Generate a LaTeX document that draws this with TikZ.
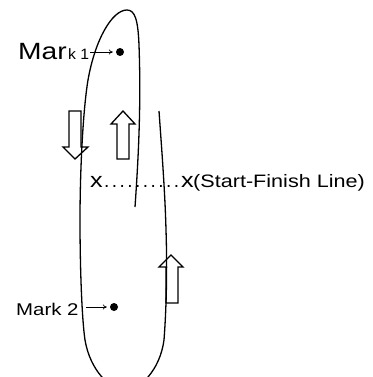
\documentclass[tikz,border=0pt]{standalone}
\usepackage{fontspec}
\setmainfont{Liberation Sans}
\usepackage{graphicx}
\usetikzlibrary{arrows.meta}
\begin{document}
\begin{tikzpicture}[x=1pt,y=-1pt,
  track/.style={line width=1.3pt},
  hollow/.style={line width=1.3pt, line join=miter},
  pointer/.style={line width=0.7pt,-{To[length=4pt,width=5pt]}, shorten >=3pt},
  lbl/.style={inner sep=0pt, anchor=base west, text=black},
  dotmark/.style={circle, fill=black, inner sep=0pt, minimum size=8pt}]
\useasboundingbox (0,0) rectangle (372,377);
% hollow direction arrows
\draw[hollow] (69,111) -- (81,111) -- (81,147) -- (88,147) -- (75,159) -- (63,147) -- (69,147) -- cycle;
\draw[hollow] (117,159) -- (129,159) -- (129,124) -- (135,124) -- (123,111) -- (111,124) -- (117,124) -- cycle;
\draw[hollow] (166,303) -- (178,303) -- (178,267) -- (183,267) -- (171,255) -- (159,267) -- (166,267) -- cycle;
% track
\begin{scope}
\clip (0,0) rectangle (372,377);
\draw[track] (135,207) .. controls (139,150) and (141,100) .. (139,45)
  .. controls (138,20) and (135,10) .. (127,10)
  .. controls (112,10) and (95,40) .. (88,80)
  .. controls (83,110) and (80,170) .. (80,220)
  .. controls (80,270) and (82,320) .. (85,340)
  .. controls (90,370) and (110,390) .. (125,390)
  .. controls (140,390) and (160,370) .. (164,340)
  .. controls (167,300) and (167,260) .. (166,230)
  .. controls (165,190) and (161,140) .. (159,111);
\end{scope}
% Mark 1
\node[lbl] (mar) at (18,60) {\fontsize{23.5}{26}\selectfont\scalebox{1.2}[1]{Mar}};
\node[lbl] (k1) at (68,60) {\fontsize{15}{17}\selectfont\scalebox{1.05}[1]{k 1}};
\node[dotmark] (dot1) at (120,52) {};
\coordinate (p1) at (90,52);
\draw[pointer] (p1) -- (dot1);
% Mark 2
\node[lbl] (m2) at (16,315) {\fontsize{17}{19}\selectfont\scalebox{1.2}[1]{Mark 2}};
\node[dotmark] (dot2) at (114,307) {};
\coordinate (p2) at (86,307);
\draw[pointer] (p2) -- (dot2);
% start-finish line
\node[lbl] (xa) at (90,187) {\fontsize{21}{24}\selectfont\scalebox{1.2}[1]{x}};
\node[lbl] (dots) at (104,187) {\makebox[75pt][l]{\fontsize{19}{22}\selectfont .\hfill.\hfill.\hfill.\hfill.\hfill.\hfill.\hfill.\hfill.\hfill.}};
\node[lbl] (xb) at (181,187) {\fontsize{21}{24}\selectfont\scalebox{1.2}[1]{x}};
\node[lbl] (sfl) at (193,187) {\fontsize{18}{20}\selectfont\scalebox{1.2}[1]{(Start-Finish Line)}};
\end{tikzpicture}
\end{document}
